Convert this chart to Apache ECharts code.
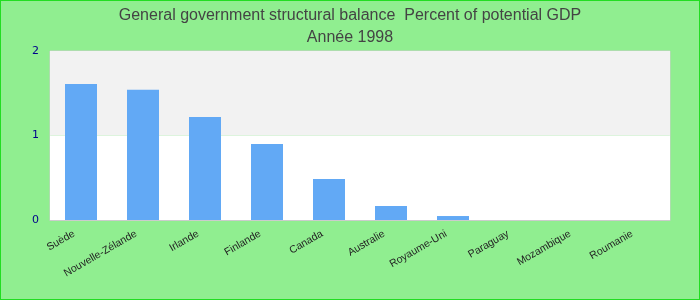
<!DOCTYPE html>
<html><head><meta charset="utf-8">
<script src="https://cdn.jsdelivr.net/npm/echarts@6/dist/echarts.min.js"></script>
<style>html,body{margin:0;padding:0;background:#90ee90}#c{width:700px;height:300px;box-sizing:border-box;border:1px solid #22dd22}</style>
</head><body><div id="c"></div>
<script>
const categories = ["Suède","Nouvelle-Zélande","Irlande","Finlande","Canada","Australie","Royaume-Uni","Paraguay","Mozambique","Roumanie"];
const values = [1.61, 1.54, 1.22, 0.90, 0.485, 0.166, 0.047, null, null, null];
const titleText = "General government structural balance  Percent of potential GDP";
const subtitleText = "Année 1998";
const chart = echarts.init(document.getElementById('c'), null, {renderer:'canvas'});
chart.setOption({
  backgroundColor: '#90ee90',
  animation: false,
  title: {
    text: titleText, subtext: subtitleText, left: 'center', top: 2, itemGap: 6,
    textStyle: {fontFamily: 'Liberation Sans, Arial, sans-serif', fontSize: 16, fontWeight: 'normal', color: '#444'},
    subtextStyle: {fontFamily: 'Liberation Sans, Arial, sans-serif', fontSize: 16, color: '#444'}
  },
  grid: {left: 49, right: 29, top: 50, bottom: 79, show: true, borderColor: '#ccc', borderWidth: 1, backgroundColor: 'transparent'},
  xAxis: {
    type: 'category', data: categories,
    axisLine: {show: true, lineStyle: {color: '#ccc'}},
    axisTick: {show: false},
    axisLabel: {rotate: 30, interval: 0, margin: 9, padding: [0, 8, 0, 0], color: '#222', fontFamily: 'Liberation Sans, Arial, sans-serif', fontSize: 10.5}
  },
  yAxis: {
    type: 'value', min: 0, max: 2, interval: 1,
    axisLine: {show: false}, axisTick: {show: false},
    splitLine: {show: false},
    splitArea: {show: true, areaStyle: {color: ['#ffffff', '#f2f2f2']}},
    axisLabel: {color: '#00008b', fontFamily: 'DejaVu Sans, sans-serif', fontSize: 11, margin: 11}
  },
  series: [{type: 'bar', data: values, barWidth: 32, itemStyle: {color: '#62a9f5'}}]
});
</script></body></html>
